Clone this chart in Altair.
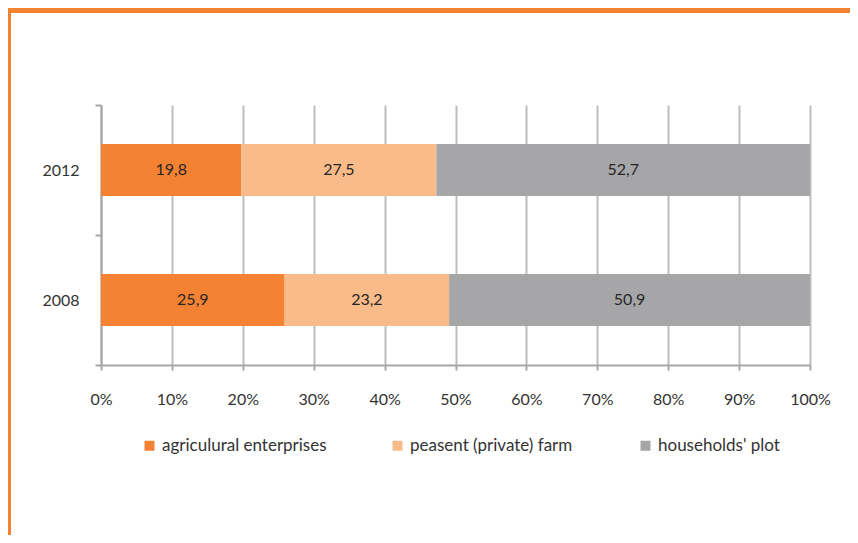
import altair as alt
import pandas as pd

years = ["2012", "2008"]
categories = ["agriculural enterprises", "peasent (private) farm", "households' plot"]
values_2012 = [19.8, 27.5, 52.7]
values_2008 = [25.9, 23.2, 50.9]
colors = ["#F58233", "#FABB8A", "#A6A6A8"]
x_ticks = [0, 10, 20, 30, 40, 50, 60, 70, 80, 90, 100]

rows = []
for year, vals in zip(years, [values_2012, values_2008]):
    for i, (cat, v) in enumerate(zip(categories, vals)):
        rows.append({"year": year, "category": cat, "value": v, "order": i,
                     "label": f"{v:.1f}".replace(".", ",")})
df = pd.DataFrame(rows)

FONT = "Lato"
FS = 16
TXT = "#333333"

base = alt.Chart(df).transform_stack(
    stack="value", groupby=["year"], as_=["x0", "x1"],
    sort=[alt.SortField("order", order="ascending")]
).transform_calculate(mid="(datum.x0 + datum.x1) / 2")

y_enc = alt.Y("year:N", sort=years, title=None,
              scale=alt.Scale(paddingInner=0, paddingOuter=0),
              axis=alt.Axis(tickBand="extent", tickSize=6, tickWidth=2, tickColor="#A6A6A6",
                            domainColor="#A6A6A6", domainWidth=2, labelPadding=16,
                            labelFont=FONT, labelFontSize=FS, labelColor=TXT, grid=False))

bars = base.mark_bar(size=52).encode(
    x=alt.X("x0:Q", title=None, scale=alt.Scale(domain=[0, 100], nice=False),
            axis=alt.Axis(values=x_ticks, labelExpr="datum.value + '%'",
                          labelFlush=False,
                          grid=True, gridColor="#BDBDBD", gridWidth=2,
                          domainColor="#A6A6A6", domainWidth=2,
                          tickColor="#A6A6A6", tickWidth=2, tickSize=5,
                          labelPadding=21, labelFont=FONT, labelFontSize=FS,
                          labelColor=TXT)),
    x2="x1:Q",
    y=y_enc,
    color=alt.Color("category:N", sort=categories,
                    scale=alt.Scale(domain=categories, range=colors),
                    legend=alt.Legend(title=None, orient="none", legendX=40, legendY=332,
                                      direction="horizontal", columns=3, gridAlign="all",
                                      columnPadding=62, symbolType="square", symbolSize=100,
                                      symbolStrokeWidth=0, labelOffset=4, padding=0,
                                      labelLimit=400,
                                      labelFont=FONT, labelFontSize=17, labelColor=TXT)),
)

texts = base.mark_text(font=FONT, fontSize=FS, color="#262626").encode(
    x="mid:Q",
    y=alt.Y("year:N", sort=years),
    text="label:N",
)

frame_data = alt.Data(values=[{"k": 0}])
frame_top = alt.Chart(frame_data).mark_rect(color="#F58233").encode(
    x=alt.value(-93), x2=alt.value(749), y=alt.value(-97), y2=alt.value(-92))
frame_left = alt.Chart(frame_data).mark_rect(color="#F58233").encode(
    x=alt.value(-93), x2=alt.value(-90), y=alt.value(-97), y2=alt.value(430))

chart = alt.layer(bars, texts, frame_top, frame_left).properties(
    width=709, height=260,
    autosize=alt.AutoSizeParams(type="none"),
    padding={"left": 93, "top": 97, "right": 40, "bottom": 170},
    background="white",
).configure_view(stroke=None)

chart.save("out.html", embed_options={"renderer": "svg", "actions": False})
